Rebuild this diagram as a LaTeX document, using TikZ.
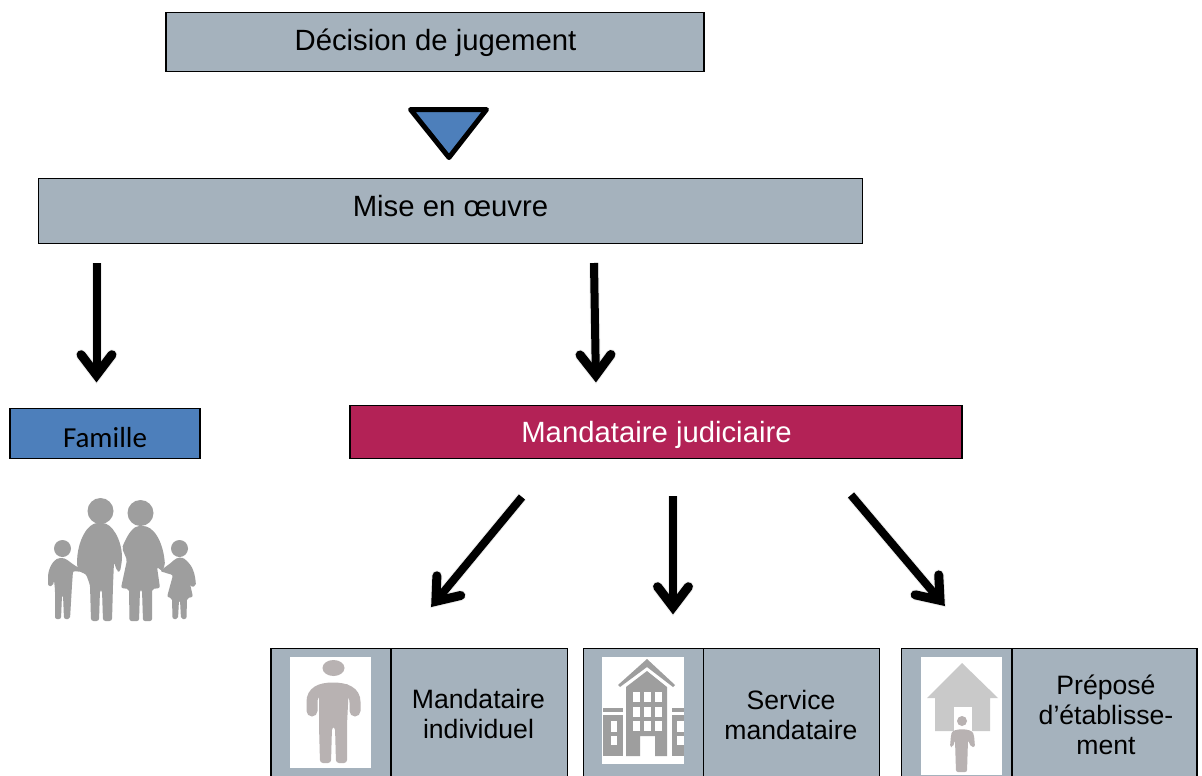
\documentclass[tikz,border=0pt]{standalone}
\usepackage{fontspec}
\setmainfont{Liberation Sans}
\newfontfamily\carl{Carlito}
\usetikzlibrary{calc}
\definecolor{slateb}{HTML}{A5B2BD}
\definecolor{blueb}{HTML}{4D7FBB}
\definecolor{wine}{HTML}{B32256}
\definecolor{grayic}{HTML}{9E9E9E}
\definecolor{persn}{HTML}{B8B2B2}
\definecolor{housec}{HTML}{C9C9C9}
\tikzset{
 boxs/.style={draw=black,line width=1.8pt,fill=slateb,inner sep=0pt,align=center,text=black},
 lab/.style={font=\fontsize{26.6}{30}\selectfont,inner sep=0pt,align=center},
 bigfont/.style={font=\fontsize{29.3}{34}\selectfont},
}
\begin{document}
\begin{tikzpicture}[x=1pt,y=-1pt]
\useasboundingbox (0,0) rectangle (1202,776);
\fill[white] (0,0) rectangle (1202,776);
% top boxes
\node[boxs,minimum width=538pt,minimum height=59pt,bigfont] (dec) at (435,42) {};
\node[inner sep=0pt,bigfont] (dect) at (435.5,43) {Décision de jugement};
\node[boxs,minimum width=824pt,minimum height=65pt] (mise) at (450.5,211) {};
\node[inner sep=0pt,bigfont] (miset) at (450.5,206.5) {Mise en œuvre};
\coordinate (t1) at (410.5,109.5);
\coordinate (t2) at (486.5,109.5);
\coordinate (t3) at (449,157.5);
\draw[line width=5pt,line join=round,fill=blueb] (t1)--(t2)--(t3)--cycle;
% mid boxes
\node[draw=black,line width=1.6pt,fill=blueb,minimum width=190pt,minimum height=50pt,inner sep=0pt] (fam) at (105,433.5) {};
\node[inner sep=0pt,font=\carl\fontsize{29}{34}\selectfont] (famt) at (105,437.5) {Famille};
\node[draw=black,line width=1.8pt,fill=wine,minimum width=612pt,minimum height=53pt,inner sep=0pt] (mj) at (656,432) {};
\node[inner sep=0pt,text=white,bigfont] (mjt) at (656.5,435) {Mandataire judiciaire};
% family icon
\begin{scope}[grayic]
\fill (100.5,511) circle (13);
\fill (140.5,513) circle (13);
\fill (62.5,548.5) circle (8.5);
\fill (179.5,548.5) circle (8.5);
% father
\fill[rounded corners=2.5pt] (91,621)--(90,585)--(86,574)--(80,572)--(77,566) .. controls (77,540) and (88,523) .. (100,523) .. controls (112,523) and (122,540) .. (122,560) -- (120,572) -- (117,571) -- (114,562) -- (113,585) -- (112,621) -- (103,621) -- (102,590) -- (100,590) -- (99,621) -- cycle;
% mother
\fill[rounded corners=2pt] (129.5,621)--(129,589)--(121,588) -- (127,560) -- (122,548) .. controls (128,533) and (134,526) .. (141,526) .. controls (153,526) and (163,540) .. (165,565) -- (162,571) -- (157,567) -- (160,588)--(152,589)--(152,621)--(143,621)--(142,590)--(140,590)--(139,621)--cycle;
% boy
\fill[rounded corners=2pt] (55,619)--(55,590)--(54,580)--(53,586)--(48,586)--(48,575) .. controls (50,565) and (55,558) .. (62,558) .. controls (68,559) and (73,566) .. (83,569) -- (83,572) -- (73,571) -- (72,585)--(70,619)--(64,619)--(63,595)--(62,595)--(61,619)--cycle;
% girl
\fill[rounded corners=2pt] (172.5,619)--(172,598)--(167,597)--(173,575)--(166,573)--(160,571)--(172,562) .. controls (177,557) and (182,557) .. (186,560) .. controls (192,566) and (195,572) .. (196,586) -- (191,587) --(188,575)--(193,597)--(187,598)--(186.5,619)--(181,619)--(180,600)--(179,600)--(178,619)--cycle;
\end{scope}
% bottom cells
\node[boxs,minimum width=120pt,minimum height=131pt,anchor=north west] (c1) at (270,647.5) {};
\node[boxs,minimum width=176pt,minimum height=131pt,anchor=north west] (c2) at (390.5,647.5) {};
\node[boxs,minimum width=120pt,minimum height=131pt,anchor=north west] (c3) at (582.5,647.5) {};
\node[boxs,minimum width=176pt,minimum height=131pt,anchor=north west] (c4) at (702.5,647.5) {};
\node[boxs,minimum width=111pt,minimum height=131pt,anchor=north west] (c5) at (900.5,647.5) {};
\node[boxs,minimum width=185pt,minimum height=131pt,anchor=north west] (c6) at (1011,647.5) {};
\node[lab] (t1a) at (478.5,714) {Mandataire\\individuel};
\node[lab] (t2a) at (791,715) {Service\\mandataire};
\node[lab] (t3a) at (1106,714.5) {Préposé\\d’établisse-\\ment};
% icon 1
\fill[white] (290,657) rectangle (371,768);
\begin{scope}[persn]
\fill (333.5,668) ellipse (11 and 8);
\draw[line width=11pt,line cap=round] (312,711) -- (312,702) .. controls (312,692) and (320,688) .. (333,688) .. controls (346,688) and (355,692) .. (355,702) -- (355,711);
\fill[rounded corners=3pt] (319,684) -- (349,684) -- (347,725) -- (347,763) -- (336,763) -- (335,727) -- (332,727) -- (331,763) -- (320,763) -- (319,725) -- cycle;
\end{scope}
% icon 2
\fill[white] (602,657) rectangle (684,764);
\begin{scope}[grayic]
\fill (618,685) -- (647,659) -- (675,685) -- (673,687) -- (647,667) -- (620,687) -- cycle;
\fill (626,687) -- (647,671) -- (667,687) -- (667,756) -- (655,756) -- (655,736) -- (640,736) -- (640,756) -- (626,756) -- cycle;
\fill (603,708) rectangle (623,712);
\fill (603,715) rectangle (623,756);
\fill (672,708) rectangle (684,712);
\fill (672,715) rectangle (684,756);
\end{scope}
\foreach \xx in {633,644,655}{\foreach \yy in {692,707,721}{\fill[white] (\xx,\yy) rectangle +(7,9.5);}}
\fill[white] (611,721) rectangle (617,732);
\fill[white] (611,736) rectangle (617,745);
\fill[white] (677,721) rectangle (684,732);
\fill[white] (677,736) rectangle (684,745);
% icon 3
\fill[white] (921,657) rectangle (1002,775);
\fill[housec] (927,698) -- (962,663) -- (998,698) -- (990,698) -- (990,731) -- (935,731) -- (935,698) -- cycle;
\fill[white] (954,707) rectangle (972,731);
\begin{scope}[persn]
\fill (962,721) circle (5);
\fill[rounded corners=2pt] (950,747) -- (951,735) .. controls (953,728) and (971,728) .. (974,735) -- (975,747) -- (971,747) -- (968,740) -- (967,772) -- (956,772) -- (955,740) -- (953,747) -- cycle;
\end{scope}
% arrows
\coordinate (a1s) at (96.5,263);  \coordinate (a1e) at (96.5,385);
\coordinate (a2s) at (594,263);   \coordinate (a2e) at (596,385);
\coordinate (a3s) at (522,497);   \coordinate (a3e) at (429.5,609);
\coordinate (a4s) at (673,496);   \coordinate (a4e) at (673,617);
\coordinate (a5s) at (851,495);   \coordinate (a5e) at (946.5,608);
\foreach \s/\e in {a1s/a1e,a2s/a2e,a3s/a3e,a4s/a4e,a5s/a5e}{
 \begin{scope}[shift={(2.5,3)},black,opacity=.07]
  \draw[line width=10pt] (\s) -- ($(\e)!12pt!(\s)$);
  \draw[line width=11pt,line cap=round] ($(\e)!34pt!27:(\s)$) -- ($(\e)!10pt!(\s)$) -- ($(\e)!34pt!-27:(\s)$);
 \end{scope}
 \draw[line width=8pt] (\s) -- ($(\e)!12pt!(\s)$);
 \draw[line width=9pt,line cap=round,line join=miter] ($(\e)!34pt!27:(\s)$) -- ($(\e)!10pt!(\s)$) -- ($(\e)!34pt!-27:(\s)$);
}
\end{tikzpicture}
\end{document}
